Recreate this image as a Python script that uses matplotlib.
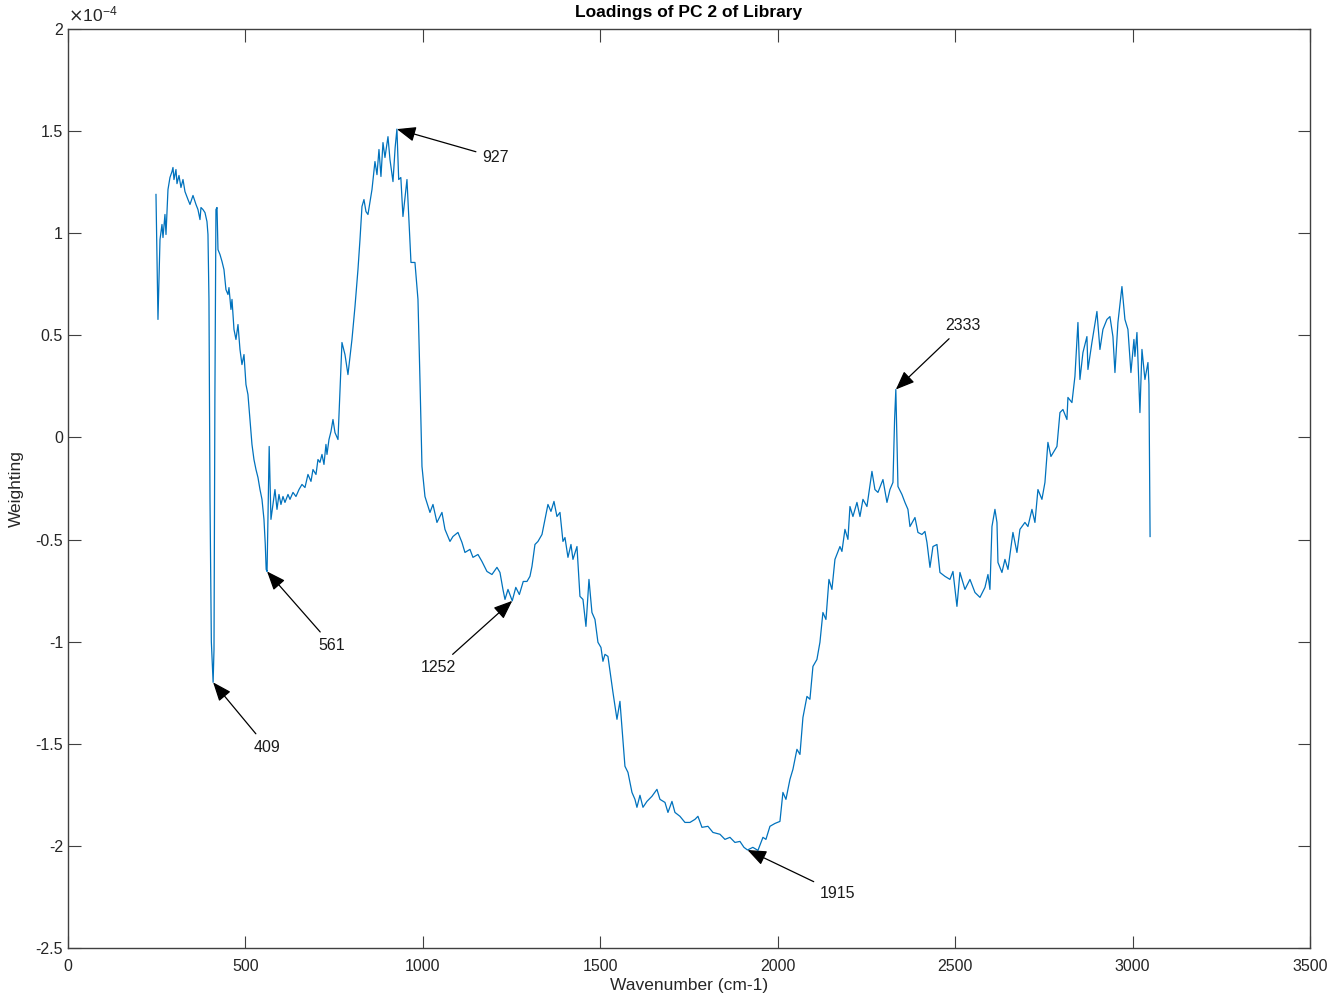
import numpy as np
import matplotlib
matplotlib.use("Agg")
import matplotlib.pyplot as plt
from matplotlib.ticker import FuncFormatter

plt.rcParams['font.family'] = ['Liberation Sans', 'DejaVu Sans']
plt.rcParams['axes.unicode_minus'] = False

# wavenumber (cm-1) and PC2 loading (in units of 1e-4)
wavenumber = [
    248.0, 253.6, 259.3, 264.9, 267.7, 273.3, 276.2, 281.8, 287.4, 293.1,
    295.9, 298.7, 304.3, 307.2, 312.8, 318.4, 324.1, 329.7, 338.2, 343.8,
    352.3, 360.7, 366.3, 372.0, 374.8, 380.4, 386.1, 391.7, 394.5, 397.3,
    400.2, 404.0, 409.0, 411.5, 414.0, 417.0, 420.0, 422.7, 428.3, 434.0,
    439.6, 445.2, 450.9, 453.7, 459.3, 462.2, 467.8, 473.4, 479.1, 484.7,
    490.3, 496.0, 501.6, 507.2, 512.9, 518.5, 524.1, 529.8, 535.4, 541.1,
    546.7, 552.3, 556.0, 558.5, 561.0, 567.0, 572.0, 577.7, 583.3, 589.0,
    594.6, 600.2, 605.9, 611.5, 620.0, 625.6, 634.1, 642.5, 651.0, 659.4,
    667.9, 676.3, 684.8, 690.4, 698.9, 704.5, 710.1, 715.8, 721.4, 727.0,
    729.9, 735.5, 741.1, 746.8, 752.4, 760.9, 772.1, 780.6, 789.0, 800.3,
    808.8, 817.2, 822.9, 828.5, 834.1, 839.8, 845.4, 856.7, 865.1, 870.8,
    876.4, 882.0, 887.7, 893.3, 901.8, 907.4, 915.9, 922.0, 927.0, 932.0,
    938.0, 944.0, 955.3, 966.6, 977.8, 986.3, 991.9, 997.6, 1006.0, 1020.1,
    1028.6, 1039.8, 1053.9, 1062.4, 1076.5, 1084.9, 1099.0, 1110.3, 1118.7, 1132.8,
    1141.3, 1155.4, 1166.6, 1180.7, 1194.8, 1208.9, 1217.4, 1225.8, 1231.5, 1240.0,
    1252.0, 1262.0, 1272.0, 1283.0, 1293.5, 1301.9, 1307.6, 1316.0, 1324.5, 1335.8,
    1344.2, 1352.6, 1361.1, 1369.6, 1378.0, 1386.5, 1394.9, 1400.6, 1409.0, 1417.5,
    1423.1, 1434.4, 1442.8, 1451.3, 1459.7, 1468.2, 1476.6, 1485.1, 1493.5, 1502.0,
    1507.6, 1513.3, 1521.7, 1535.8, 1547.1, 1555.5, 1569.6, 1578.1, 1589.4, 1597.8,
    1603.4, 1611.9, 1620.4, 1631.6, 1645.7, 1659.8, 1668.3, 1682.4, 1690.8, 1702.1,
    1710.5, 1724.6, 1738.7, 1752.8, 1766.9, 1775.3, 1786.6, 1803.5, 1817.6, 1837.4,
    1851.4, 1865.5, 1879.6, 1893.7, 1905.0, 1915.0, 1930.0, 1944.4, 1958.5, 1966.9,
    1978.2, 1992.3, 2006.4, 2014.8, 2023.3, 2034.6, 2043.0, 2054.3, 2062.8, 2071.2,
    2082.5, 2090.9, 2099.4, 2110.6, 2119.1, 2127.5, 2136.0, 2144.5, 2152.9, 2161.4,
    2175.5, 2181.1, 2189.6, 2198.0, 2203.7, 2212.1, 2223.4, 2231.9, 2240.3, 2251.6,
    2265.7, 2274.1, 2282.6, 2296.7, 2308.0, 2316.4, 2324.9, 2329.5, 2333.0, 2339.0,
    2350.2, 2358.7, 2367.1, 2372.8, 2386.9, 2395.3, 2406.6, 2415.0, 2420.7, 2429.2,
    2437.6, 2448.9, 2457.3, 2471.4, 2485.5, 2494.0, 2505.2, 2513.7, 2527.8, 2541.9,
    2556.0, 2570.1, 2584.2, 2592.6, 2598.2, 2603.9, 2612.3, 2618.0, 2620.8, 2632.0,
    2640.5, 2649.0, 2663.0, 2674.3, 2682.7, 2696.8, 2705.3, 2716.6, 2725.0, 2733.5,
    2744.7, 2753.2, 2761.6, 2770.1, 2787.0, 2795.5, 2803.9, 2815.2, 2818.0, 2829.3,
    2837.7, 2846.2, 2851.8, 2860.3, 2871.5, 2874.4, 2885.6, 2899.7, 2908.2, 2916.6,
    2927.9, 2936.4, 2944.8, 2950.5, 2958.9, 2970.2, 2978.6, 2987.1, 2995.5, 3004.0,
    3006.8, 3012.5, 3020.9, 3026.6, 3035.0, 3043.5, 3046.3, 3049.5,
]
loading_e4 = [
    1.190, 0.578, 0.969, 1.043, 0.979, 1.092, 0.994, 1.214, 1.273, 1.302,
    1.322, 1.263, 1.312, 1.243, 1.283, 1.224, 1.263, 1.204, 1.165, 1.141,
    1.185, 1.141, 1.116, 1.067, 1.126, 1.116, 1.101, 1.057, 0.994, 0.676,
    -0.303, -1.000, -1.199, -1.038, 0.186, 1.116, 1.126, 0.920, 0.896, 0.862,
    0.822, 0.724, 0.700, 0.734, 0.627, 0.676, 0.529, 0.480, 0.553, 0.431,
    0.357, 0.406, 0.259, 0.210, 0.088, -0.034, -0.108, -0.157, -0.196, -0.255,
    -0.303, -0.401, -0.524, -0.646, -0.656, -0.044, -0.401, -0.328, -0.255, -0.352,
    -0.279, -0.328, -0.289, -0.318, -0.279, -0.303, -0.269, -0.289, -0.255, -0.230,
    -0.245, -0.181, -0.215, -0.157, -0.181, -0.108, -0.122, -0.083, -0.132, -0.034,
    -0.083, -0.010, 0.029, 0.088, 0.024, -0.010, 0.465, 0.406, 0.308, 0.480,
    0.641, 0.822, 0.969, 1.131, 1.165, 1.106, 1.092, 1.214, 1.351, 1.287,
    1.410, 1.278, 1.444, 1.371, 1.473, 1.361, 1.253, 1.420, 1.510, 1.263,
    1.273, 1.082, 1.263, 0.857, 0.857, 0.676, 0.284, -0.142, -0.289, -0.367,
    -0.328, -0.416, -0.367, -0.450, -0.509, -0.485, -0.465, -0.514, -0.563, -0.548,
    -0.587, -0.573, -0.607, -0.656, -0.671, -0.636, -0.661, -0.744, -0.793, -0.744,
    -0.800, -0.734, -0.769, -0.705, -0.705, -0.680, -0.631, -0.524, -0.509, -0.475,
    -0.401, -0.328, -0.362, -0.313, -0.387, -0.367, -0.509, -0.490, -0.587, -0.524,
    -0.597, -0.534, -0.778, -0.793, -0.925, -0.695, -0.857, -0.891, -1.003, -1.028,
    -1.096, -1.062, -1.072, -1.248, -1.380, -1.292, -1.610, -1.640, -1.738, -1.772,
    -1.811, -1.752, -1.811, -1.782, -1.757, -1.723, -1.772, -1.787, -1.836, -1.782,
    -1.836, -1.855, -1.885, -1.885, -1.870, -1.855, -1.909, -1.904, -1.934, -1.943,
    -1.968, -1.958, -1.983, -1.978, -2.007, -2.020, -2.007, -2.022, -1.958, -1.968,
    -1.904, -1.890, -1.880, -1.738, -1.772, -1.674, -1.625, -1.527, -1.552, -1.371,
    -1.268, -1.282, -1.121, -1.087, -1.003, -0.857, -0.891, -0.695, -0.744, -0.597,
    -0.534, -0.558, -0.450, -0.499, -0.338, -0.387, -0.318, -0.387, -0.303, -0.338,
    -0.166, -0.255, -0.269, -0.206, -0.318, -0.255, -0.220, 0.088, 0.235, -0.240,
    -0.279, -0.318, -0.352, -0.436, -0.392, -0.465, -0.475, -0.460, -0.514, -0.636,
    -0.534, -0.524, -0.661, -0.680, -0.695, -0.656, -0.827, -0.661, -0.744, -0.695,
    -0.759, -0.783, -0.734, -0.671, -0.744, -0.436, -0.352, -0.416, -0.612, -0.661,
    -0.597, -0.646, -0.465, -0.563, -0.450, -0.416, -0.436, -0.352, -0.416, -0.255,
    -0.303, -0.220, -0.024, -0.093, -0.044, 0.122, 0.137, 0.088, 0.196, 0.171,
    0.299, 0.563, 0.284, 0.416, 0.494, 0.333, 0.465, 0.617, 0.431, 0.529,
    0.578, 0.592, 0.494, 0.318, 0.563, 0.739, 0.578, 0.529, 0.318, 0.480,
    0.397, 0.514, 0.122, 0.431, 0.284, 0.367, 0.259, -0.485,
]

# annotated peaks: label, peak position, text position (cm-1, 1e-4 units)
peak_labels = ['409', '561', '927', '1252', '1915', '2333']
peak_x = [409.0, 561.0, 927.0, 1252.0, 1915.0, 2333.0]
peak_y = [-1.199, -0.656, 1.510, -0.800, -2.020, 0.235]
text_x = [561.0, 744.0, 1206.0, 1043.0, 2170.0, 2522.0]
text_y = [-1.517, -1.018, 1.371, -1.126, -2.232, 0.548]

wn = np.array(wavenumber)
weighting = np.array(loading_e4) * 1e-4

fig = plt.figure(figsize=(13.33, 10.08), dpi=100)
ax = fig.add_axes([0.051, 0.0595, 0.9317, 0.9117])

ax.plot(wn, weighting, color='#0072BD', lw=0.9)

for lab, px, py, tx, ty in zip(peak_labels, peak_x, peak_y, text_x, text_y):
    ax.annotate(lab, xy=(px, py * 1e-4), xytext=(tx, ty * 1e-4),
                ha='center', va='center', fontsize=11.5, color='#1a1a1a',
                arrowprops=dict(arrowstyle='-|>,head_length=1.0,head_width=0.4',
                                color='black', lw=0.9, shrinkA=3, shrinkB=0))

ax.set_xlim(0, 3500)
ax.set_ylim(-2.5e-4, 2e-4)
ax.set_xticks(np.arange(0, 3501, 500))
ax.set_yticks(np.arange(-2.5, 2.01, 0.5) * 1e-4)
ax.yaxis.set_major_formatter(FuncFormatter(lambda v, _: f'{v * 1e4:g}'))

gray = '#404040'
for s in ax.spines.values():
    s.set_color(gray)
    s.set_linewidth(1.0)
ax.tick_params(direction='in', length=9, width=0.8, colors=gray,
               labelcolor='#262626', labelsize=11.5, top=True, right=True)
ax.tick_params(axis='x', pad=8)

ax.set_title('Loadings of PC 2 of Library', fontsize=12.5, fontweight='bold', pad=9)
ax.set_xlabel('Wavenumber (cm-1)', fontsize=12.5, color='#262626', labelpad=3)
ax.set_ylabel('Weighting', fontsize=12.5, color='#262626', labelpad=8)

ax.text(0.0, 1.005, r'$\times\mathregular{10^{-4}}$', transform=ax.transAxes,
        fontsize=12.5, color='#262626', ha='left', va='bottom')

fig.savefig('out.png', dpi=100)
